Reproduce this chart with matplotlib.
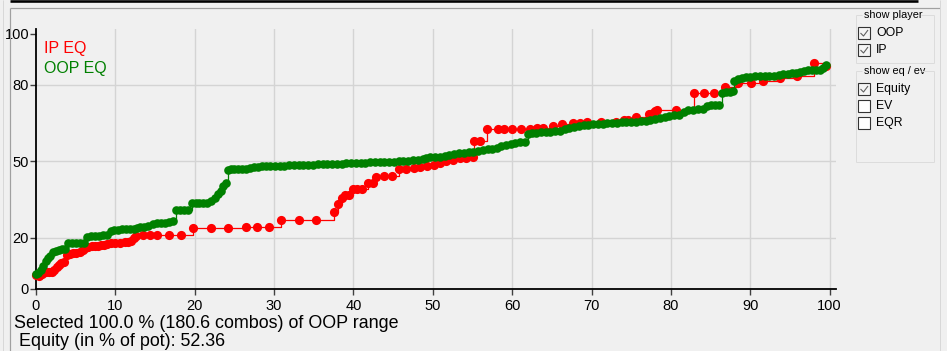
import matplotlib
matplotlib.use('Agg')
import matplotlib.pyplot as plt
from matplotlib.lines import Line2D
from matplotlib.patches import Rectangle

# ---------------- data ----------------
x_ticks = [0, 10, 20, 30, 40, 50, 60, 70, 80, 90, 100]
y_ticks = [0, 20, 50, 80, 100]

ip_x = [0.0, 0.4, 0.8, 1.2, 1.6, 2.0, 2.3, 2.6, 2.9, 3.2, 3.5, 3.9, 4.3, 4.7, 5.1, 5.5,
        5.9, 6.2, 6.6, 7.0, 7.4, 7.8, 8.2, 8.6, 9.0, 9.5, 10.0, 10.6, 11.2, 11.6, 12.0,
        12.3, 12.6, 13.5, 14.4, 15.2, 16.8, 18.3, 19.8, 22.0, 24.2, 26.4, 27.8, 29.4,
        30.9, 33.1, 35.3, 37.5, 38.1, 38.5, 38.9, 39.5, 39.9, 40.5, 41.1, 41.8, 42.4,
        42.9, 43.8, 44.9, 45.8, 46.6, 47.6, 48.4, 49.3, 50.2, 50.9, 51.7, 52.6, 53.4,
        54.2, 55.1, 55.15, 56.0, 56.8, 58.2, 59.0, 60.0, 61.1, 62.2, 63.1, 63.9, 65.2,
        66.3, 67.7, 68.5, 69.4, 71.2, 73.1, 74.1, 74.6, 75.6, 77.3, 77.7, 78.0, 78.3,
        80.6, 82.9, 84.2, 85.4, 86.8, 88.4, 90.1, 91.6, 93.8, 95.9, 98.0, 99.6]
ip_y = [5.5, 5.0, 5.8, 6.5, 6.8, 6.8, 7.5, 8.5, 9.5, 10.2, 10.7, 13.3, 13.6, 14.0, 14.2, 14.6,
        15.3, 15.9, 16.5, 16.8, 16.9, 17.0, 17.2, 17.4, 17.6, 17.9, 18.0, 18.1, 18.3, 18.4, 18.8,
        19.8, 20.6, 21.0, 21.0, 21.1, 21.2, 21.2, 23.7, 23.7, 23.7, 24.1, 24.1, 24.1,
        26.9, 26.9, 26.9, 30.2, 33.3, 35.7, 36.8, 36.8, 39.1, 39.1, 39.1, 41.4, 41.4,
        43.8, 44.1, 44.1, 46.9, 46.9, 47.2, 47.7, 48.2, 48.6, 49.3, 50.1, 50.7, 51.1,
        51.2, 51.5, 57.8, 57.8, 62.5, 62.5, 62.5, 62.5, 62.5, 62.8, 63.1, 63.2, 64.0,
        64.5, 65.0, 65.1, 65.2, 65.4, 65.4, 66.0, 66.3, 67.2, 68.4, 68.9, 69.5, 70.1,
        70.1, 76.6, 76.6, 76.6, 79.1, 80.6, 80.6, 81.5, 82.5, 83.4, 88.3, 87.4]

oop_x = [0.0, 0.3, 0.6, 0.9, 1.2, 1.5, 1.8, 2.1, 2.5, 2.9, 3.3, 3.7, 4.0, 4.5, 5.0, 5.5,
         6.0, 6.4, 6.9, 7.4, 7.9, 8.4, 8.9, 9.4, 9.8, 10.3, 10.8, 11.3, 11.8, 12.3, 12.7,
         13.1, 13.6, 14.1, 14.7, 15.2, 15.7, 16.2, 16.8, 17.3, 17.7, 18.2, 18.7, 19.2,
         19.6, 20.1, 20.6, 21.1, 21.6, 22.1, 22.5, 22.9, 23.3, 23.6, 23.9, 24.2, 24.6,
         25.0, 25.5, 26.0, 26.5, 27.0, 27.5, 28.0, 28.5, 29.0, 29.5, 30.1, 30.7, 31.3,
         31.9, 32.5, 33.1, 33.7, 34.3, 34.9, 35.5, 36.1, 36.7, 37.3, 37.9, 38.5, 39.1,
         39.7, 40.3, 40.9, 41.5, 42.1, 42.7, 43.3, 43.9, 44.5, 45.1, 45.7, 46.3, 46.9,
         47.5, 48.1, 48.7, 49.2, 49.7, 50.3, 50.9, 51.5, 52.1, 52.7, 53.3, 53.9, 54.5,
         55.1, 55.7, 56.3, 56.9, 57.5, 58.1, 58.6, 59.2, 59.8, 60.4, 61.0, 61.6, 62.0,
         62.5, 63.0, 63.6, 64.2, 64.8, 65.4, 66.0, 66.6, 67.2, 67.8, 68.4, 69.0, 69.6,
         70.2, 70.8, 71.4, 72.0, 72.6, 73.2, 73.8, 74.4, 75.0, 75.6, 76.2, 76.8, 77.4,
         78.0, 78.6, 79.2, 79.8, 80.4, 81.0, 81.6, 82.2, 82.8, 83.4, 84.0, 84.6, 85.1,
         85.6, 86.0, 86.4, 86.9, 87.4, 87.8, 88.0, 88.5, 89.0, 89.5, 90.0, 90.6, 91.2,
         91.8, 92.4, 93.0, 93.6, 94.1, 94.7, 95.3, 95.8, 96.3, 96.8, 97.3, 97.8, 98.3,
         98.8, 99.2, 99.6]
oop_y = [5.9, 6.2, 7.5, 9.2, 11.0, 12.3, 12.8, 14.3, 14.8, 15.3, 15.5, 15.6, 17.9, 17.9, 18.0, 18.0,
         18.2, 20.5, 20.6, 20.7, 20.9, 21.0, 21.2, 22.6, 23.1, 23.2, 23.3, 23.4, 23.5, 23.6, 23.7,
         24.3, 24.4, 24.6, 25.6, 25.8, 25.9, 26.0, 26.1, 26.8, 30.9, 30.9, 30.9, 31.0,
         33.5, 33.5, 33.5, 33.5, 33.6, 34.4, 35.6, 37.2, 38.5, 40.2, 41.5, 46.4, 46.8,
         47.0, 47.0, 47.1, 47.1, 47.2, 47.6, 47.8, 48.0, 48.1, 48.2, 48.3, 48.3, 48.3,
         48.4, 48.4, 48.5, 48.6, 48.6, 48.7, 48.8, 48.9, 49.0, 49.0, 49.1, 49.1, 49.2,
         49.3, 49.4, 49.5, 49.5, 49.6, 49.7, 49.7, 49.8, 49.8, 49.9, 50.0, 50.1, 50.2,
         50.4, 50.7, 51.0, 51.3, 51.5, 51.6, 51.8, 52.1, 52.5, 52.8, 53.1, 53.3, 53.5,
         53.8, 54.1, 54.5, 54.8, 55.0, 55.3, 55.8, 56.3, 56.8, 57.2, 57.4, 57.6, 60.8,
         61.0, 61.2, 61.3, 61.5, 61.6, 61.8, 62.0, 62.5, 62.9, 63.4, 64.0, 64.2, 64.4,
         64.5, 64.6, 64.7, 64.8, 65.0, 65.1, 65.2, 65.3, 65.4, 65.5, 65.6, 65.8, 66.0,
         66.4, 66.9, 67.3, 67.8, 68.0, 68.3, 69.4, 69.9, 70.1, 70.4, 70.5, 71.6, 72.0,
         72.0, 72.2, 76.8, 77.1, 77.2, 77.4, 81.6, 82.3, 82.6, 82.9, 83.1, 83.3, 83.4,
         83.4, 83.4, 83.4, 83.6, 84.1, 84.3, 84.5, 84.7, 85.0, 85.5, 85.6, 85.7, 85.7,
         85.8, 86.5, 87.7]

series_labels = ["IP EQ", "OOP EQ"]
summary_line1 = "Selected 100.0 % (180.6 combos) of OOP range"
summary_line2 = " Equity (in % of pot): 52.36"
group1_title = "show player"
group1_items = ["OOP", "IP"]
group1_checked = [True, True]
group2_title = "show eq / ev"
group2_items = ["Equity", "EV", "EQR"]
group2_checked = [True, False, False]

# ---------------- figure ----------------
FONT = 'Liberation Sans'
plt.rcParams['font.family'] = [FONT, 'DejaVu Sans']
W, H = 947, 351
BG = '#F0F0F0'
fig = plt.figure(figsize=(W / 100, H / 100), dpi=100, facecolor=BG)


def fx(x):
    return x / W


def fy(y):
    return 1 - y / H


def pline(xs, ys, color, lw_px, z=5):
    fig.add_artist(Line2D([fx(v) for v in xs], [fy(v) for v in ys], color=color,
                          lw=lw_px * 0.72, transform=fig.transFigure, zorder=z,
                          solid_capstyle='butt'))


# window frame
pline([10, 918], [1.2, 1.2], '#000000', 2.6)
pline([10, 940], [8, 8], '#A0A0A0', 1.2)
pline([10, 10], [8, 351], '#A0A0A0', 1.2)
pline([2.5, 2.5], [0, 351], '#D8D8D8', 1.0)
pline([940, 940], [0, 351], '#D8D8D8', 1.0)

# plot axes
ax = fig.add_axes([36 / W, 62 / H, 800 / W, 260 / H])
ax.set_facecolor(BG)
ax.set_xlim(0, 100.8)
ax.set_ylim(0, 101.8)
for s in ['top', 'right']:
    ax.spines[s].set_visible(False)
for s in ['left', 'bottom']:
    ax.spines[s].set_linewidth(1.3)
    ax.spines[s].set_color('black')
ax.set_xticks(x_ticks)
ax.set_yticks(y_ticks)
ax.tick_params(axis='both', length=4, width=1.0, color='#404040', labelsize=10.5,
               labelcolor='#000000')
ax.tick_params(axis='y', pad=1)
ax.tick_params(axis='x', pad=3)
for v in x_ticks[1:]:
    ax.axvline(v, color='#D4D4D4', lw=1.0, zorder=0)
for v in y_ticks[1:-1]:
    ax.axhline(v, color='#D4D4D4', lw=1.0, zorder=0)

ax.step(ip_x, ip_y, where='post', color='#FF0000', lw=0.9, marker='o', ms=6.6,
        mec='#FF0000', mew=0, zorder=3, clip_on=False)
ax.step(oop_x, oop_y, where='post', color='#008000', lw=0.9, marker='o', ms=6.2,
        mec='#008000', mew=0, zorder=4, clip_on=False)

fig.text(fx(44), fy(49), series_labels[0], color='#FF0000', fontsize=11.5,
         va='center', ha='left')
fig.text(fx(44), fy(68), series_labels[1], color='#008000', fontsize=11.5,
         va='center', ha='left')

# summary text
fig.text(fx(14), fy(324), summary_line1, fontsize=12.9, va='center', ha='left')
fig.text(fx(14), fy(346.5), summary_line2, fontsize=12.9, va='baseline', ha='left')


# right panel groups
def group(top, bottom, title, items, checked, y0):
    left, right = 856, 934
    col = '#DCDCDC'
    pline([left, left], [top, bottom], col, 1.0)
    pline([right, right], [top, bottom], col, 1.0)
    pline([left, right], [bottom, bottom], col, 1.0)
    pline([left, 862], [top, top], col, 1.0)
    pline([921, right], [top, top], col, 1.0)
    fig.text(fx(864), fy(top), title, fontsize=7.8, va='center', ha='left')
    for i, (lab, chk) in enumerate(zip(items, checked)):
        cy = y0 + i * 17
        fig.add_artist(Rectangle((fx(858), fy(cy + 6)), 12 / W, 12 / H,
                                 transform=fig.transFigure, facecolor='white'
                                 if not chk else '#F4F4F4', edgecolor='#333333',
                                 lw=0.8, zorder=5))
        if chk:
            pline([860.5, 863.5, 868], [cy, cy + 3, cy - 3], '#606060', 1.1, z=6)
        fig.text(fx(876), fy(cy), lab, fontsize=8.8, va='center', ha='left')


group(15, 63, group1_title, group1_items, group1_checked, 33)
group(71, 162, group2_title, group2_items, group2_checked, 89)

fig.savefig('out.png', dpi=100, facecolor=BG)
